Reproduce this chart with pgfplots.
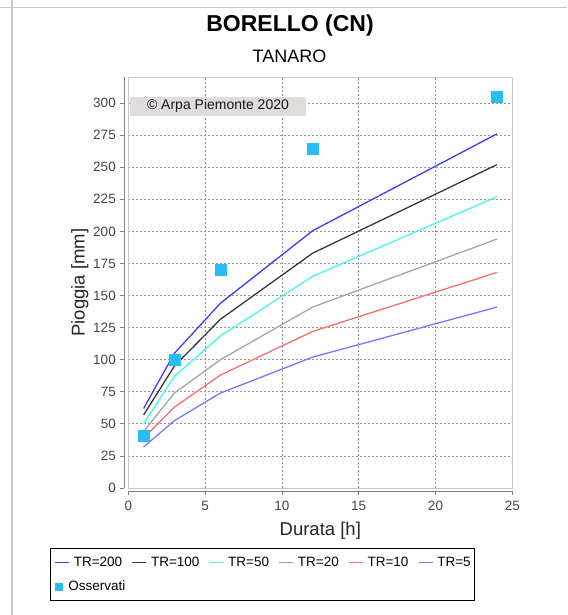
\documentclass[border=0pt]{standalone}
\usepackage{pgfplots}
\pgfplotsset{compat=1.18}
\usepackage{fontspec}
\setmainfont{Liberation Sans}
\definecolor{tra}{RGB}{60,60,245}
\definecolor{trb}{RGB}{55,55,55}
\definecolor{trc}{RGB}{70,245,240}
\definecolor{trd}{RGB}{165,165,165}
\definecolor{tre}{RGB}{250,110,110}
\definecolor{trf}{RGB}{120,120,250}
\definecolor{oss}{RGB}{40,190,245}
\definecolor{gridc}{RGB}{150,150,150}
\definecolor{framec}{RGB}{200,200,200}
\definecolor{tickc}{RGB}{70,70,70}
\definecolor{copyc}{RGB}{226,220,220}
\begin{document}
\begin{tikzpicture}
\path[use as bounding box] (0pt,0pt) rectangle (567pt,-615pt);
% screenshot frame lines
\draw[framec, line width=1.5pt] (12pt,0pt) -- (12pt,-615pt);
\draw[framec, line width=1.2pt] (0pt,-7.5pt) -- (567pt,-7.5pt);
% titles
\node[anchor=base, font=\bfseries\fontsize{23}{26}\selectfont] at (290pt,-31.5pt) {BORELLO (CN)};
\node[anchor=base, font=\fontsize{18}{21}\selectfont] at (289.5pt,-63pt) {TANARO};
\begin{axis}[
  at={(128.3pt,-488pt)}, anchor=south west,
  scale only axis, width=384pt, height=410.6pt,
  xmin=0, xmax=25, ymin=0, ymax=320,
  axis lines*=left,
  axis x line shift=3pt, axis y line shift=4pt,
  axis line style={color=gray, line width=1pt, -},
  xtick={0,5,...,25}, ytick={0,25,...,300},
  tick align=outside, major tick length=4pt,
  tick style={color=gray, line width=0.8pt},
  grid=major,
  major grid style={gridc, line width=0.8pt, dash pattern=on 2pt off 2pt},
  tick label style={font=\fontsize{13.5}{15}\selectfont, text=tickc},
  /pgf/number format/assume math mode=true,
  yticklabel style={xshift=-1pt},
  xticklabel style={yshift=-3pt},
  xlabel={Durata [h]}, ylabel={Pioggia [mm]},
  xlabel style={font=\fontsize{18.5}{21}\selectfont, text=black!85, yshift=-4pt},
  ylabel style={font=\fontsize{18.5}{21}\selectfont, text=black!85, yshift=-2pt},
  legend columns=6,
  legend cell align=left,
  legend style={at={(rel axis cs:0,0)}, anchor=north west, xshift=-78.3pt, yshift=-60pt,
    draw=black, line width=0.8pt, font=\fontsize{13.5}{15}\selectfont,
    nodes={inner sep=0pt},
    inner xsep=4pt, inner ysep=8.5pt,
    /tikz/every odd column/.append style={column sep=4pt},
    /tikz/every even column/.append style={column sep=9.4pt},
    row sep=13pt},
  legend image code/.code={\draw[#1, line width=1.4pt] (0pt,0pt) -- (14pt,0pt);},
  clip=false,
]
\draw[framec, line width=0.8pt] (rel axis cs:0,0) rectangle (rel axis cs:1,1);
\addplot[tra, line width=1.3pt] coordinates {(1,62) (3,105) (6,144) (12,200.5) (24,276)};
\addlegendentry{TR=200}
\addplot[trb, line width=1.3pt] coordinates {(1,57) (3,95) (6,131.5) (12,183) (24,252)};
\addlegendentry{TR=100}
\addplot[trc, line width=1.3pt] coordinates {(1,50) (3,87) (6,118.5) (12,165) (24,227)};
\addlegendentry{TR=50}
\addplot[trd, line width=1.3pt] coordinates {(1,44) (3,74) (6,100) (12,141) (24,194)};
\addlegendentry{TR=20}
\addplot[tre, line width=1.3pt] coordinates {(1,39) (3,63) (6,88) (12,122) (24,168)};
\addlegendentry{TR=10}
\addplot[trf, line width=1.3pt] coordinates {(1,32) (3,52.5) (6,74) (12,102) (24,141)};
\addlegendentry{TR=5\hspace{10pt}}
\addplot[only marks, mark=square*, mark size=5.5pt, mark options={draw=oss, fill=oss},
  legend image code/.code={\fill[oss] (0pt,-3.5pt) rectangle (7pt,3.5pt);}]
  coordinates {(1,41) (3,100) (6,170) (12,264.5) (24,305)};
\addlegendentry{\makebox[0pt][l]{\kern-6pt Osservati}}
\node[anchor=west, fill=copyc, inner xsep=17pt, inner ysep=3pt,
  font=\fontsize{14}{16}\selectfont, text=black!90] at (axis cs:0.1,297.5) {\textcopyright{} Arpa Piemonte 2020};
\end{axis}
\end{tikzpicture}
\end{document}
